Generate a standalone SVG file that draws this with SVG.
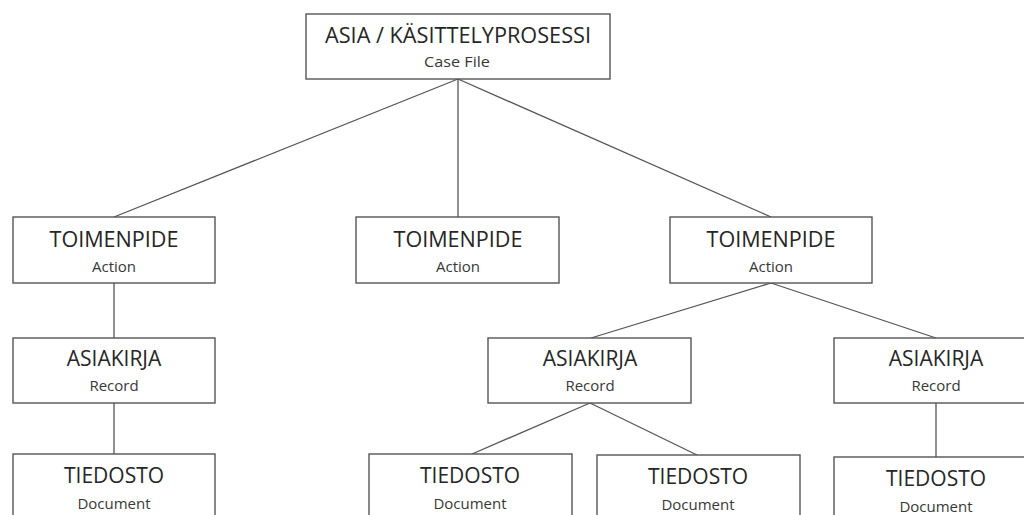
<svg xmlns="http://www.w3.org/2000/svg" width="1024" height="515" viewBox="0 0 1024 515">
<style>
.box{fill:#fff;stroke:#555;stroke-width:1.4}
.t{font-family:"Open Sans","Liberation Sans",sans-serif;font-size:21px;fill:#262626;text-anchor:middle}
.s{font-family:"Open Sans","Liberation Sans",sans-serif;font-size:15px;fill:#383838;text-anchor:middle}
.c{stroke:#555;stroke-width:1.3;fill:none}
</style>
<rect width="1024" height="515" fill="#fff"/>
<g id="connectors">
<line class="c" x1="458" y1="79" x2="114" y2="217"/>
<line class="c" x1="458" y1="79" x2="458" y2="217"/>
<line class="c" x1="458" y1="79" x2="771" y2="217"/>
<line class="c" x1="114" y1="283" x2="114" y2="338"/>
<line class="c" x1="114" y1="403" x2="114" y2="454"/>
<line class="c" x1="771" y1="283" x2="591" y2="338"/>
<line class="c" x1="771" y1="283" x2="936" y2="338"/>
<line class="c" x1="590" y1="403" x2="472" y2="454"/>
<line class="c" x1="590" y1="403" x2="697" y2="455"/>
<line class="c" x1="936" y1="403" x2="936" y2="457"/>
</g>
<g id="root">
<rect class="box" x="306" y="14" width="304" height="65"/>
<text class="t" x="458" y="43" textLength="266" lengthAdjust="spacingAndGlyphs">ASIA / KÄSITTELYPROSESSI</text>
<text class="s" x="457" y="67" textLength="66" lengthAdjust="spacingAndGlyphs">Case File</text>
</g>
<g id="action1">
<rect class="box" x="13" y="217" width="202" height="66"/>
<text class="t" x="114" y="247" textLength="129" lengthAdjust="spacingAndGlyphs">TOIMENPIDE</text>
<text class="s" x="114" y="272">Action</text>
</g>
<g id="action2">
<rect class="box" x="356" y="217" width="203" height="66"/>
<text class="t" x="458" y="247" textLength="129" lengthAdjust="spacingAndGlyphs">TOIMENPIDE</text>
<text class="s" x="458" y="272">Action</text>
</g>
<g id="action3">
<rect class="box" x="670" y="217" width="202" height="66"/>
<text class="t" x="771" y="247" textLength="129" lengthAdjust="spacingAndGlyphs">TOIMENPIDE</text>
<text class="s" x="771" y="272">Action</text>
</g>
<g id="record1">
<rect class="box" x="13" y="338" width="202" height="65"/>
<text class="t" x="114" y="366">ASIAKIRJA</text>
<text class="s" x="114" y="391">Record</text>
</g>
<g id="record2">
<rect class="box" x="488" y="338" width="203" height="65"/>
<text class="t" x="590" y="366">ASIAKIRJA</text>
<text class="s" x="590" y="391">Record</text>
</g>
<g id="record3">
<rect class="box" x="834" y="338" width="203" height="65"/>
<text class="t" x="936" y="366">ASIAKIRJA</text>
<text class="s" x="936" y="391">Record</text>
</g>
<g id="document1">
<rect class="box" x="13" y="454" width="202" height="70"/>
<text class="t" x="114" y="483">TIEDOSTO</text>
<text class="s" x="114" y="509">Document</text>
</g>
<g id="document2">
<rect class="box" x="369" y="454" width="203" height="70"/>
<text class="t" x="470" y="483">TIEDOSTO</text>
<text class="s" x="470" y="509">Document</text>
</g>
<g id="document3">
<rect class="box" x="597" y="455" width="203" height="70"/>
<text class="t" x="698" y="484">TIEDOSTO</text>
<text class="s" x="698" y="510">Document</text>
</g>
<g id="document4">
<rect class="box" x="834" y="457" width="203" height="70"/>
<text class="t" x="936" y="486">TIEDOSTO</text>
<text class="s" x="936" y="512">Document</text>
</g>
</svg>
